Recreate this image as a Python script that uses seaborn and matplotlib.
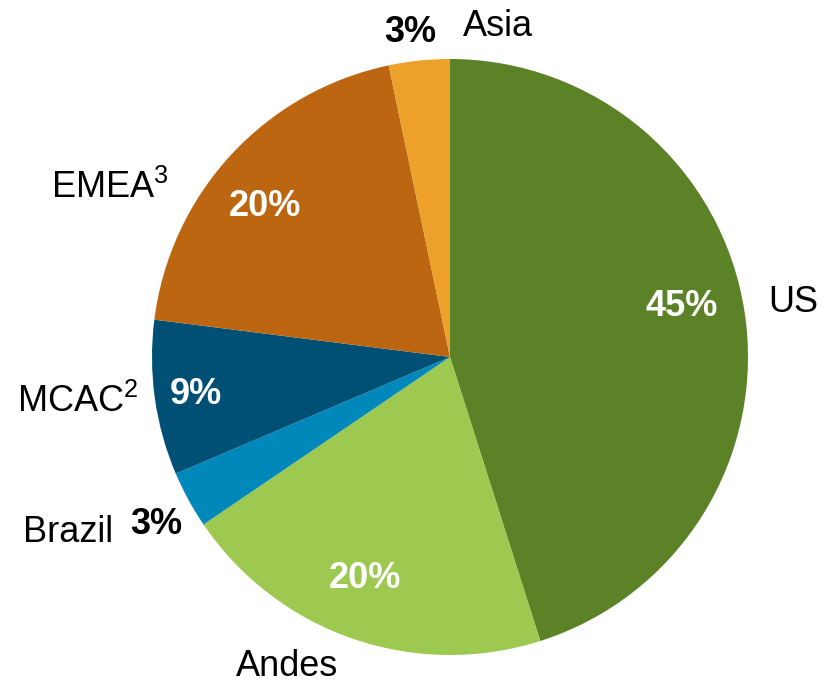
import matplotlib
matplotlib.use("Agg")
import matplotlib.pyplot as plt
import seaborn as sns

regions = ["US", "Andes", "Brazil", "MCAC$^{2}$", "EMEA$^{3}$", "Asia"]
shares = [45.1, 20.4, 3.1, 8.4, 19.7, 3.3]
pct_labels = ["45%", "20%", "3%", "9%", "20%", "3%"]
colors = ["#5B8226", "#9DC951", "#0088BB", "#004F74", "#BC6612", "#EDA02A"]
pct_colors = ["white", "white", "black", "white", "white", "black"]

# pixel positions of labels (figure is 830x684, pie centre 450,357, radius 298)
name_px = [(793, 302), (287, 667), (68, 532), (78, 402), (110, 188), (498, 27)]
pct_px = [(682, 306), (365, 578), (156, 524), (196, 395), (265, 207), (410, 33)]

sns.set_theme(style="white")
plt.rcParams['font.family'] = ['Liberation Sans', 'DejaVu Sans']
plt.rcParams['mathtext.fontset'] = 'custom'
plt.rcParams['mathtext.rm'] = 'Liberation Sans'
plt.rcParams['mathtext.it'] = 'Liberation Sans'
plt.rcParams['mathtext.default'] = 'regular'

W, H, cx, cy, R = 830, 684, 450, 357, 298
fig = plt.figure(figsize=(W / 100, H / 100), dpi=100)
ax = fig.add_axes([0, 0, 1, 1])
ax.pie(shares, colors=colors, startangle=90, counterclock=False, radius=1,
       wedgeprops=dict(linewidth=0))
ax.set_xlim(-cx / R, (W - cx) / R)
ax.set_ylim(-(H - cy) / R, cy / R)
ax.set_aspect("auto")
ax.axis("off")

def to_data(p):
    return (p[0] - cx) / R, (cy - p[1]) / R

for name, p in zip(regions, name_px):
    x, y = to_data(p)
    ax.text(x, y, name, ha="center", va="center", fontsize=26, color="black")
for lab, p, c in zip(pct_labels, pct_px, pct_colors):
    x, y = to_data(p)
    ax.text(x, y, lab, ha="center", va="center", fontsize=26, color=c, fontweight="bold")

fig.savefig("out.png", dpi=100)
